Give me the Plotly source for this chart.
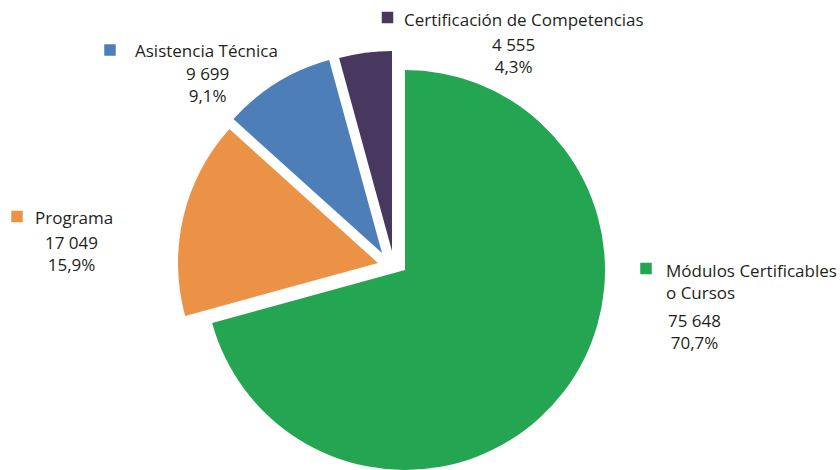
import plotly.graph_objects as go

# ---- data ----
categories = ["Módulos Certificables o Cursos", "Programa", "Asistencia Técnica",
              "Certificación de Competencias"]
label_lines = [["Módulos Certificables", "o Cursos"], ["Programa"], ["Asistencia Técnica"],
               ["Certificación de Competencias"]]
values = [75648, 17049, 9699, 4555]

# ---- styles / layout ----
colors = ["#24A552", "#EB9247", "#4D7EB8", "#483860"]
W, H = 840, 470
R = 200
FONT = "Open Sans"
FS = 17
TXT = "#231F20"
# apex (pixel) of each exploded slice
apex = [(405, 270), (378, 263), (382, 253), (392, 251)]
# (square centre x, square centre y, text left, title first-line centre y, numbers centre x, numbers block centre y)
label_pos = [
    (646, 268.5, 664, 270, 694, 331),
    (17, 216.5, 33, 217, 71, 253),
    (110, 50, 133, 50, 207.5, 85),
    (387.5, 17.5, 402, 19, 513, 55),
]
SQ = 11.5
LINE = 22

total = sum(values)


def fmt_int(v):
    return f"{v:,}".replace(",", " ")


def fmt_pct(v):
    return f"{v / total * 100:.1f}".replace(".", ",") + "%"


def px(x):
    return x / W


def py(y):
    return 1 - y / H


fig = go.Figure()
for i in range(len(values)):
    cols = [c if j == i else "rgba(0,0,0,0)" for j, c in enumerate(colors)]
    cx, cy = apex[i]
    fig.add_trace(go.Pie(
        labels=categories, values=values, sort=False, direction="clockwise", rotation=0,
        marker=dict(colors=cols, line=dict(width=0)),
        textinfo="none", hoverinfo="skip", showlegend=False,
        domain=dict(x=[max(0, px(cx - R)), min(1, px(cx + R))],
                    y=[max(0, py(cy + R)), min(1, py(cy - R))]),
    ))

annotations = []
shapes = []
for i, v in enumerate(values):
    sx, sy, tl, ty, nx, ny = label_pos[i]
    shapes.append(dict(type="rect", xref="paper", yref="paper",
                       x0=px(sx - SQ / 2), x1=px(sx + SQ / 2),
                       y0=py(sy + SQ / 2), y1=py(sy - SQ / 2),
                       fillcolor=colors[i], line=dict(width=0)))
    n = len(label_lines[i])
    annotations.append(dict(text="<br>".join(label_lines[i]), xref="paper", yref="paper",
                            x=px(tl), y=py(ty + (n - 1) * LINE / 2), xanchor="left", yanchor="middle",
                            align="left", showarrow=False,
                            font=dict(family=FONT, size=FS, color=TXT)))
    annotations.append(dict(text=fmt_int(v) + "<br>" + fmt_pct(v), xref="paper", yref="paper",
                            x=px(nx), y=py(ny), xanchor="center", yanchor="middle",
                            align="center", showarrow=False,
                            font=dict(family=FONT, size=FS, color=TXT)))

fig.update_layout(width=W, height=H, margin=dict(l=0, r=0, t=0, b=0),
                  paper_bgcolor="white", plot_bgcolor="white",
                  annotations=annotations, shapes=shapes, showlegend=False)
fig.write_html("out.html", config={"displayModeBar": False},
               post_script="document.body.style.margin='0';")
